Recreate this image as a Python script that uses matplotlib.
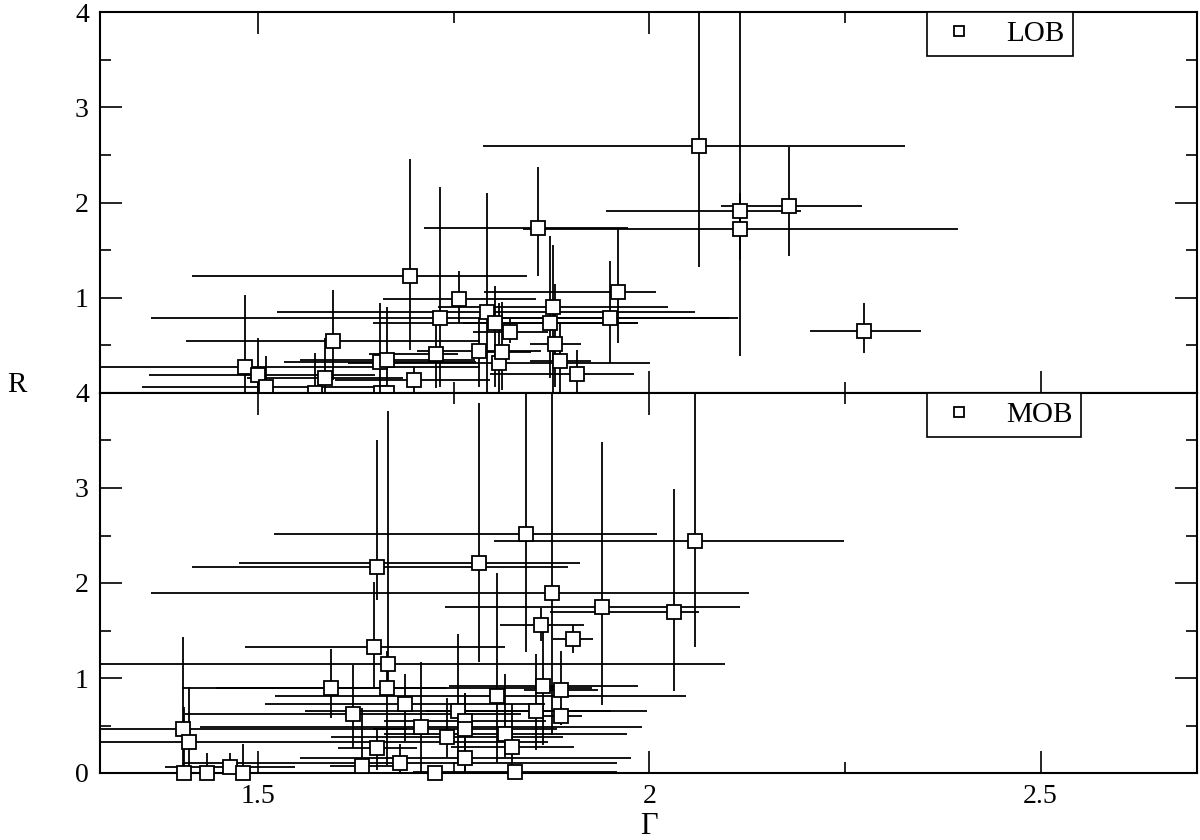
import numpy as np
import matplotlib
matplotlib.use('Agg')
import matplotlib.pyplot as plt
from matplotlib.ticker import MultipleLocator

plt.rcParams['font.family'] = ['Liberation Serif', 'DejaVu Serif']

# LOB sample: photon index, its error-bar ends, R and its error-bar ends
lob_g = [1.483, 1.500, 1.510, 1.573, 1.586, 1.596, 1.656, 1.665, 1.657, 1.665,
         1.694, 1.699, 1.728, 1.733, 1.757, 1.783, 1.792, 1.803, 1.808, 1.812,
         1.822, 1.858, 1.873, 1.877, 1.880, 1.886, 1.907, 1.950, 1.960, 2.063,
         2.116, 2.116, 2.178, 2.275]
lob_g_lo = [1.183, 1.361, 1.352, 1.543, 1.486, 1.408, 1.533, 1.554, 1.637, 1.645,
            1.416, 1.598, 1.642, 1.363, 1.660, 1.703, 1.524, 1.647, 1.615, 1.775,
            1.775, 1.712, 1.762, 1.730, 1.847, 1.847, 1.797, 1.786, 1.789, 1.788,
            1.945, 1.838, 2.092, 2.206]
lob_g_hi = [1.784, 1.650, 1.669, 1.603, 1.685, 1.784, 1.779, 1.777, 1.677, 1.685,
            1.844, 1.797, 1.756, 2.102, 1.855, 1.862, 2.059, 1.985, 2.001, 1.849,
            1.870, 1.973, 1.985, 2.024, 1.913, 1.926, 1.980, 2.114, 2.009, 2.327,
            2.194, 2.395, 2.272, 2.347]
lob_r = [0.27, 0.19, 0.06, 0.00, 0.16, 0.55, 0.33, 0.35, 0.00, 0.00,
         1.23, 0.14, 0.41, 0.79, 0.99, 0.44, 0.85, 0.73, 0.31, 0.43,
         0.64, 1.73, 0.73, 0.90, 0.51, 0.34, 0.20, 0.79, 1.06, 2.59,
         1.91, 1.72, 1.96, 0.65]
lob_r_lo = [0.00, 0.00, 0.00, 0.00, 0.00, 0.14, 0.00, 0.00, 0.00, 0.00,
            0.45, 0.00, 0.05, 0.06, 0.74, 0.06, 0.00, 0.06, 0.00, 0.03,
            0.53, 1.23, 0.16, 0.00, 0.06, 0.00, 0.00, 0.31, 0.52, 1.32,
            1.40, 0.39, 1.44, 0.42]
lob_r_hi = [1.03, 0.58, 0.39, 0.42, 0.58, 1.08, 0.95, 0.90, 0.00, 0.00,
            2.46, 0.27, 0.72, 2.16, 1.28, 0.80, 2.10, 1.12, 0.95, 0.96,
            0.79, 2.37, 1.65, 1.55, 1.14, 0.75, 0.45, 1.39, 1.72, 4.50,
            4.50, 2.10, 2.58, 0.95]

# MOB sample
mob_g = [1.404, 1.412, 1.405, 1.435, 1.464, 1.481, 1.593, 1.621, 1.633, 1.648,
         1.652, 1.652, 1.665, 1.666, 1.682, 1.688, 1.708, 1.726, 1.742, 1.756,
         1.765, 1.765, 1.765, 1.783, 1.806, 1.816, 1.825, 1.829, 1.843, 1.855,
         1.861, 1.864, 1.876, 1.887, 1.887, 1.903, 1.939, 2.032, 2.059]
mob_g_lo = [1.120, 0.950, 1.355, 1.405, 1.381, 1.461, 1.446, 1.407, 1.592, 1.483,
            1.416, 1.602, 1.403, 1.235, 1.404, 1.509, 1.426, 1.494, 1.593, 1.560,
            1.661, 1.647, 1.554, 1.476, 1.522, 1.661, 1.746, 1.698, 1.520, 1.714,
            1.809, 1.744, 1.363, 1.840, 1.861, 1.877, 1.739, 1.873, 1.802]
mob_g_hi = [1.690, 1.871, 1.455, 1.465, 1.547, 1.501, 1.741, 1.836, 1.674, 1.816,
            1.896, 1.703, 1.927, 2.097, 1.959, 1.867, 1.991, 1.959, 1.890, 1.951,
            1.868, 1.882, 1.976, 1.912, 2.047, 1.971, 1.904, 1.959, 2.010, 1.997,
            1.916, 1.985, 2.127, 1.935, 1.914, 1.928, 2.116, 2.063, 2.249]
mob_r = [0.46, 0.33, 0.00, 0.00, 0.06, 0.00, 0.89, 0.62, 0.07, 1.33,
         2.17, 0.26, 0.89, 1.15, 0.11, 0.73, 0.48, 0.00, 0.38, 0.65,
         0.55, 0.46, 0.16, 2.21, 0.81, 0.41, 0.27, 0.01, 2.52, 0.65,
         1.56, 0.92, 1.89, 0.87, 0.60, 1.41, 1.75, 1.69, 2.44]
mob_r_lo = [0.00, 0.00, 0.00, 0.00, 0.00, 0.00, 0.58, 0.26, 0.00, 0.91,
            1.82, 0.03, 0.08, 0.89, 0.00, 0.34, 0.00, 0.00, 0.17, 0.12,
            0.00, 0.00, 0.00, 1.17, 0.11, 0.17, 0.00, 0.00, 1.27, 0.24,
            1.39, 0.29, 0.40, 0.51, 0.51, 1.26, 0.72, 0.86, 1.33]
mob_r_hi = [1.43, 0.91, 0.69, 0.21, 0.21, 0.31, 1.31, 1.14, 0.68, 2.01,
            3.51, 0.45, 1.28, 3.81, 0.31, 1.04, 1.17, 0.00, 0.79, 1.46,
            0.84, 0.84, 0.40, 3.89, 2.11, 1.04, 0.73, 0.01, 4.20, 1.25,
            1.74, 1.51, 4.20, 1.28, 0.70, 1.56, 3.48, 2.99, 4.20]

samples = [('LOB', lob_g, lob_g_lo, lob_g_hi, lob_r, lob_r_lo, lob_r_hi),
           ('MOB', mob_g, mob_g_lo, mob_g_hi, mob_r, mob_r_lo, mob_r_hi)]

fig = plt.figure(figsize=(12, 8.4), dpi=100)
ax_top = fig.add_axes([100/1200, 1-393/840, 1097/1200, 381/840])
ax_bot = fig.add_axes([100/1200, 1-773/840, 1097/1200, 380/840], sharex=ax_top)

for ax, (name, g, glo, ghi, r, rlo, rhi) in zip([ax_top, ax_bot], samples):
    g = np.array(g); r = np.array(r)
    xerr = [g - np.array(glo), np.array(ghi) - g]
    yerr = [r - np.array(rlo), np.array(rhi) - r]
    ax.errorbar(g, r, xerr=xerr, yerr=yerr, fmt='none', ecolor='black',
                elinewidth=1.3, capsize=0, zorder=2)
    pts, = ax.plot(g, r, 's', mfc='white', mec='black', ms=10, mew=1.3,
                   clip_on=False, zorder=5, label=name)
    ax.set_xlim(1.298, 2.70)
    ax.set_ylim(0, 4)
    ax.xaxis.set_major_locator(MultipleLocator(0.5))
    ax.xaxis.set_minor_locator(MultipleLocator(0.25))
    ax.yaxis.set_major_locator(MultipleLocator(1))
    ax.yaxis.set_minor_locator(MultipleLocator(0.5))
    ax.tick_params(which='both', direction='in', top=True, right=True,
                   width=1.2, labelsize=20, pad=8)
    ax.tick_params(which='major', length=16)
    ax.tick_params(which='minor', length=8)
    for s in ax.spines.values():
        s.set_linewidth(1.5)
    leg = ax.legend(handles=[pts], loc='upper left', bbox_to_anchor=(0.754, 1.0),
                    borderaxespad=0, fancybox=False, edgecolor='black',
                    framealpha=1, fontsize=21, markerscale=0.75,
                    handlelength=1.6, handletextpad=0.8, borderpad=0.3)
    leg.get_frame().set_linewidth(1.2)

ax_top.set_yticks([0, 1, 2, 3, 4])
ax_top.set_yticklabels(['', '1', '2', '3', '4'])
ax_top.tick_params(labelbottom=False)
ax_bot.set_xticks([1.5, 2, 2.5])
ax_bot.set_xticklabels(['1.5', '2', '2.5'])

fig.text(17/1200, 1-385/840, 'R', fontsize=21, ha='center', va='center')
fig.text(649/1200, 1-826/840, 'Γ', fontsize=22, ha='center', va='center')

fig.savefig('out.png', dpi=100)
